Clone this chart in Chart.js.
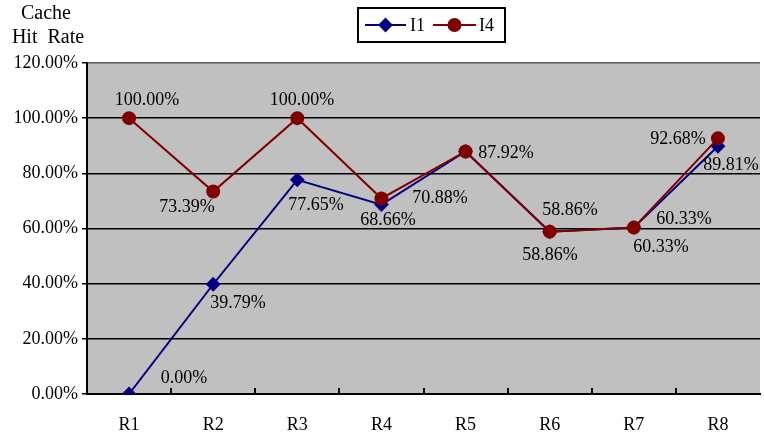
<!DOCTYPE html>
<html>
<head>
<meta charset="utf-8">
<script src="https://cdn.jsdelivr.net/npm/chart.js@4/dist/chart.umd.min.js"></script>
<style>
  html, body { margin: 0; padding: 0; background: #fff; overflow: hidden; }
  #wrap { position: relative; width: 768px; height: 436px; }
</style>
</head>
<body>
<div id="wrap"><canvas id="c" width="768" height="436"></canvas></div>
<script>
// Cache hit rate per round for the two configurations
const categories = ['R1', 'R2', 'R3', 'R4', 'R5', 'R6', 'R7', 'R8'];
const seriesNames = ['I1', 'I4'];
const i1Values = [0.00, 39.79, 77.65, 68.66, 87.92, 58.86, 60.33, 89.81];
const i4Values = [100.00, 73.39, 100.00, 70.88, 87.92, 58.86, 60.33, 92.68];
const yTicks = [0, 20, 40, 60, 80, 100, 120];

const SERIF = '"Liberation Serif", "Times New Roman", serif';
const NAVY = '#000080';
const MAROON = '#800000';

// label placement around each point (text centre relative to the marker)
const i1LabelShift = [[55, -16], [25, 19], [19, 25], [7, 15], [40, 2], [0, 23], [27, 19], [13, 19]];
const i4LabelShift = [[18, -18], [-26, 15], [5, -18], [59, 0], [40, 2], [20, -22], [50, -9], [-40, 1]];

const fmt = v => v.toFixed(2) + '%';

const plotBackground = {
  id: 'plotBackground',
  beforeDraw(chart) {
    const { ctx, chartArea: a } = chart;
    ctx.save();
    ctx.fillStyle = '#C0C0C0';
    ctx.fillRect(a.left, a.top, a.right - a.left, a.bottom - a.top);
    ctx.restore();
  }
};

// short category separators pointing up into the plot
const innerTicks = {
  id: 'innerTicks',
  afterDraw(chart) {
    const { ctx, chartArea: a } = chart;
    const x = chart.scales.x;
    ctx.save();
    ctx.strokeStyle = '#000';
    ctx.lineWidth = 2;
    for (let i = 0; i < categories.length - 1; i++) {
      const px = Math.round((x.getPixelForValue(i) + x.getPixelForValue(i + 1)) / 2);
      ctx.beginPath();
      ctx.moveTo(px, a.bottom);
      ctx.lineTo(px, a.bottom - 6);
      ctx.stroke();
    }
    ctx.restore();
  }
};

const valueLabels = {
  id: 'valueLabels',
  afterDatasetsDraw(chart) {
    const { ctx } = chart;
    ctx.save();
    ctx.font = '18px ' + SERIF;
    ctx.fillStyle = '#000';
    ctx.textAlign = 'center';
    ctx.textBaseline = 'middle';
    const drawn = new Set();
    chart.data.datasets.forEach((ds, di) => {
      const meta = chart.getDatasetMeta(di);
      const shifts = ds.labelShift;
      meta.data.forEach((pt, i) => {
        const text = fmt(ds.data[i]);
        const lx = Math.round(pt.x + shifts[i][0]);
        const ly = Math.round(pt.y + shifts[i][1]);
        const key = text + '@' + lx + ',' + ly;
        if (drawn.has(key)) return; // coinciding labels are printed once
        drawn.add(key);
        ctx.fillText(text, lx, ly);
      });
    });
    ctx.restore();
  }
};

const axisTitleAndLegend = {
  id: 'axisTitleAndLegend',
  afterDraw(chart) {
    const { ctx } = chart;
    ctx.save();
    ctx.fillStyle = '#000';
    ctx.font = '20px ' + SERIF;
    ctx.textAlign = 'center';
    ctx.textBaseline = 'middle';
    ctx.fillText('Cache', 46, 14);
    ctx.fillText('Hit  Rate', 48, 38);

    // legend box
    const bx = 358, by = 8, bw = 147, bh = 34;
    ctx.fillStyle = '#fff';
    ctx.fillRect(bx, by, bw, bh);
    ctx.strokeStyle = '#000';
    ctx.lineWidth = 2;
    ctx.strokeRect(bx, by, bw, bh);
    const cy = by + bh / 2;
    const items = [
      { name: seriesNames[0], color: NAVY, style: 'rectRot', r: 6, x0: 365, x1: 406, tx: 410 },
      { name: seriesNames[1], color: MAROON, style: 'circle', r: 6, x0: 433, x1: 476, tx: 479 }
    ];
    items.forEach(it => {
      ctx.strokeStyle = it.color;
      ctx.lineWidth = 2;
      ctx.beginPath();
      ctx.moveTo(it.x0, cy);
      ctx.lineTo(it.x1, cy);
      ctx.stroke();
      ctx.fillStyle = it.color;
      Chart.helpers.drawPoint(ctx, { pointStyle: it.style, radius: it.r, borderWidth: 1 }, (it.x0 + it.x1) / 2, cy);
      ctx.fillStyle = '#000';
      ctx.font = '18px ' + SERIF;
      ctx.textAlign = 'left';
      ctx.fillText(it.name, it.tx, cy + 1);
    });
    ctx.restore();
  }
};

new Chart(document.getElementById('c'), {
  type: 'line',
  data: {
    labels: categories,
    datasets: [
      {
        label: seriesNames[0],
        data: i1Values,
        labelShift: i1LabelShift,
        borderColor: NAVY,
        backgroundColor: NAVY,
        pointBackgroundColor: NAVY,
        pointBorderColor: NAVY,
        borderWidth: 2,
        pointStyle: 'rectRot',
        pointRadius: 6,
        tension: 0,
        order: 2
      },
      {
        label: seriesNames[1],
        data: i4Values,
        labelShift: i4LabelShift,
        borderColor: MAROON,
        backgroundColor: MAROON,
        pointBackgroundColor: MAROON,
        pointBorderColor: MAROON,
        borderWidth: 2,
        pointStyle: 'circle',
        pointRadius: 6,
        tension: 0,
        order: 1
      }
    ]
  },
  options: {
    responsive: false,
    animation: false,
    layout: { padding: { left: 0, top: 63, right: 1, bottom: 0 } },
    plugins: { legend: { display: false }, tooltip: { enabled: false } },
    scales: {
      x: {
        type: 'category',
        offset: true,
        grid: { display: true, drawOnChartArea: false, drawTicks: false, offset: true },
        border: { display: true, color: '#000', width: 2 },
        ticks: { color: '#000', font: { family: SERIF, size: 18 }, padding: 20, maxRotation: 0 },
        afterFit(s) { s.height = 42; }
      },
      y: {
        min: 0,
        max: 120,
        afterBuildTicks(s) { s.ticks = yTicks.map(v => ({ value: v })); },
        grid: {
          color: c => (c.tick && c.tick.value === 120 ? '#555' : '#000'),
          lineWidth: 1.5,
          drawTicks: true,
          tickLength: 5,
          tickColor: '#000'
        },
        border: { display: true, color: '#000', width: 2 },
        ticks: { color: '#000', font: { family: SERIF, size: 18 }, padding: 4, callback: v => fmt(v) },
        afterFit(s) { s.width = 87; }
      }
    }
  },
  plugins: [plotBackground, innerTicks, valueLabels, axisTitleAndLegend]
});
</script>
</body>
</html>
